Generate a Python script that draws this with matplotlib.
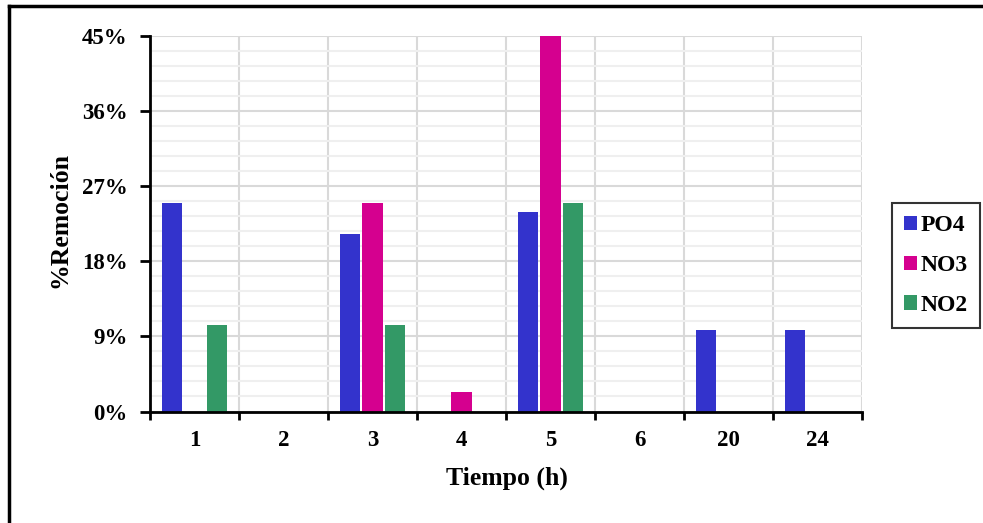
import matplotlib.pyplot as plt
from matplotlib.patches import Patch
from matplotlib.lines import Line2D
from matplotlib.ticker import MultipleLocator, FuncFormatter
import numpy as np

# removal percentage per sampling time
tiempos = ['1', '2', '3', '4', '5', '6', '20', '24']
po4 = [25.0, 0, 21.3, 0, 23.9, 0, 9.7, 9.7]
no3 = [0, 0, 25.0, 2.3, 45.0, 0, 0, 0]
no2 = [10.4, 0, 10.4, 0, 25.0, 0, 0, 0]

series = ['PO4', 'NO3', 'NO2']
colores = ['#3333CC', '#D5008F', '#339966']

plt.rcParams['font.family'] = ['Liberation Serif', 'DejaVu Serif']
plt.rcParams['font.weight'] = 'bold'

fig = plt.figure(figsize=(9.83, 5.23), dpi=100)
ax = fig.add_axes([150 / 983, 1 - 411.5 / 523, 712 / 983, 376 / 523])

x = np.arange(len(tiempos))
ancho = 0.225
paso = 0.253
for i, (vals, nombre, c) in enumerate(zip([po4, no3, no2], series, colores)):
    ax.bar(x + (i - 1) * paso, vals, width=ancho, color=c, label=nombre, zorder=3)

ax.set_xlim(-0.5, len(tiempos) - 0.5)
ax.set_ylim(0, 45)

# category boundaries as major ticks, labels on minor ticks at centers
ax.set_xticks(np.arange(len(tiempos) + 1) - 0.5)
ax.set_xticklabels([])
ax.set_xticks(x, minor=True)
ax.set_xticklabels(tiempos, minor=True, fontsize=16.5, fontweight='bold')
ax.tick_params(axis='x', which='major', length=6, width=2, direction='out')
ax.tick_params(axis='x', which='minor', length=0, pad=13)

ax.yaxis.set_major_locator(MultipleLocator(9))
ax.yaxis.set_minor_locator(MultipleLocator(1.8))
ax.yaxis.set_major_formatter(FuncFormatter(lambda v, p: f'{v:.0f}%'))
ax.tick_params(axis='y', which='major', length=7, width=2, direction='out', pad=9, labelsize=16.5)
ax.tick_params(axis='y', which='minor', length=0)

ax.yaxis.grid(True, which='minor', color='#efefef', linewidth=1.5, zorder=0)
ax.yaxis.grid(True, which='major', color='#d9d9d9', linewidth=1.5, zorder=1)
ax.xaxis.grid(True, which='major', color='#d9d9d9', linewidth=1.5, zorder=1)
ax.set_axisbelow(True)

for s in ['top', 'right']:
    ax.spines[s].set_visible(False)
for s in ['left', 'bottom']:
    ax.spines[s].set_linewidth(2)
    ax.spines[s].set_zorder(4)

fig.text(507 / 983, 1 - 478 / 523, 'Tiempo (h)', ha='center', va='center',
         fontsize=18.5, fontweight='bold')
fig.text(60 / 983, 1 - 220 / 523, '%Remoción', ha='center', va='center',
         rotation=90, fontsize=18.5, fontweight='bold')

handles = [Patch(facecolor=c, edgecolor='none') for c in colores]
leg = fig.legend(handles, series, loc='center', bbox_to_anchor=(936 / 983, 1 - 265.5 / 523),
                 frameon=True, fancybox=False, edgecolor='black', fontsize=17,
                 handlelength=0.55, handleheight=0.55, handletextpad=0.15,
                 labelspacing=0.8, borderpad=0.5, borderaxespad=0)
leg.get_frame().set_linewidth(1.5)
for t in leg.get_texts():
    t.set_fontweight('bold')

# outer chart frame (top and left edges)
fig.add_artist(Line2D([9 / 983, 1], [1 - 6 / 523, 1 - 6 / 523], color='black', linewidth=2.5))
fig.add_artist(Line2D([9 / 983, 9 / 983], [0, 1 - 6 / 523], color='black', linewidth=2.5))

fig.savefig('out.png', dpi=100)
